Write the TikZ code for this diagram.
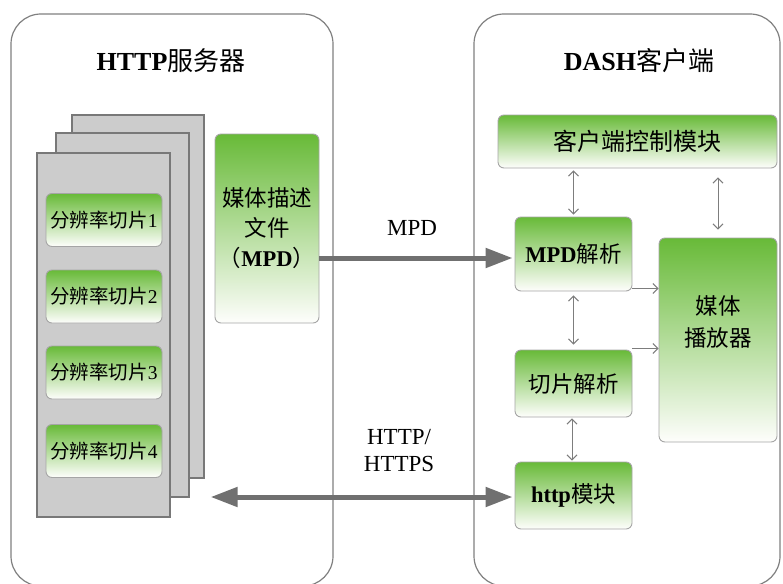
\documentclass[tikz,border=0pt]{standalone}
\usepackage{fontspec}
\setmainfont{Liberation Serif}
\newfontfamily\cjk{Noto Sans CJK SC}
\usetikzlibrary{arrows.meta}

\definecolor{boxgreen}{RGB}{104,186,56}
\definecolor{boxwhite}{RGB}{254,254,252}
\definecolor{edgegray}{RGB}{165,165,165}
\definecolor{framegray}{RGB}{128,128,128}
\definecolor{pagefill}{RGB}{204,204,204}
\definecolor{pageedge}{RGB}{120,120,120}
\definecolor{arrowgray}{RGB}{112,112,112}
\definecolor{linkgray}{RGB}{125,125,125}

\newcommand{\zh}[1]{{\cjk #1}}

\begin{document}
\begin{tikzpicture}[x=1pt,y=-1pt,
  frame/.style={draw=framegray, line width=1.2pt, rounded corners=30pt, inner sep=0pt},
  page/.style={draw=pageedge, fill=pagefill, line width=1.3pt, inner sep=0pt},
  gbox/.style={draw=edgegray, line width=0.9pt, rounded corners=6pt,
    top color=boxgreen, bottom color=boxwhite, inner sep=0pt,
    align=center, text=black},
  titletext/.style={font=\fontsize{26}{30}\selectfont, text=black},
  slicetext/.style={font=\fontsize{19.5}{23}\selectfont},
  boxtext/.style={font=\fontsize{22.5}{30}\selectfont},
  bigarrow/.style={draw=arrowgray, line width=5pt},
  bighead/.style={-{Triangle[length=27pt,width=19pt]}},
  bigboth/.style={{Triangle[length=27pt,width=19pt]}-{Triangle[length=27pt,width=19pt]}},
  link/.style={draw=linkgray, line width=1pt, -{Straight Barb[length=5pt,width=10pt]}},
  linkboth/.style={draw=linkgray, line width=1pt,
    {Straight Barb[length=5pt,width=10pt]}-{Straight Barb[length=5pt,width=10pt]}},
  lbl/.style={font=\fontsize{23}{27}\selectfont, align=center, text=black}
]
\useasboundingbox (0,0) rectangle (783,583);

% the two sides (their lower edges run just past the page)
\node[frame, minimum width=322pt, minimum height=572pt] (server) at (172,300) {};
\node[frame, minimum width=306pt, minimum height=572pt] (client) at (627,300) {};
\node[titletext] (servertitle) at (171,61) {\textbf{HTTP}\zh{服务器}};
\node[titletext] (clienttitle) at (639,61) {\textbf{DASH}\zh{客户端}};

% stack of representation pages
\node[page, minimum width=132pt, minimum height=363pt] (pg1) at (138,296.5) {};
\node[page, minimum width=133pt, minimum height=364pt] (pg2) at (122.5,315) {};
\node[page, minimum width=133pt, minimum height=364pt] (pg3) at (103.5,335) {};

% segments
\foreach \i/\y in {1/220,2/296.5,3/372.5,4/451}
  \node[gbox, slicetext, minimum width=116pt, minimum height=53pt] (seg\i) at (104,\y) {\zh{分辨率切片}\i};

% media description
\node[gbox, boxtext, minimum width=104pt, minimum height=189pt] (mpd) at (267,228.5)
  {\zh{媒体描述}\\\zh{文件}\\\zh{（}\textbf{MPD}\zh{）}};

% client modules
\node[gbox, font=\fontsize{24}{28}\selectfont, minimum width=279pt, minimum height=53pt] (ctrl) at (637.5,141.5) {\zh{客户端控制模块}};
\node[gbox, boxtext, minimum width=117pt, minimum height=74pt] (mpdp) at (573.5,254) {\textbf{MPD}\zh{解析}};
\node[gbox, font=\fontsize{22.5}{32}\selectfont, minimum width=118pt, minimum height=204pt] (player) at (718,340) {\zh{媒体}\\\zh{播放器}\\[6pt]};
\node[gbox, boxtext, minimum width=117pt, minimum height=67pt] (segp) at (573.5,383.5) {\zh{切片解析}};
\node[gbox, boxtext, minimum width=117pt, minimum height=67pt] (http) at (573.5,495.5) {\textbf{http}\zh{模块}};

% transfers between server and client
\coordinate (mpdin) at ([yshift=-4pt]mpdp.west);
\draw[bigarrow, bighead, shorten >=2pt] (mpd.east |- mpdin) -- (mpdin)
  node[lbl, midway, xshift=-5pt, yshift=30pt] (mpdlabel) {MPD};
\coordinate (httpin) at ([yshift=-1.5pt]http.west);
\draw[bigarrow, bigboth, shorten >=2pt] ([xshift=6pt]pg1.east |- httpin) -- (httpin)
  node[lbl, pos=0.62, yshift=46pt] (httplabel) {HTTP/\\HTTPS};

% links inside the client
\draw[linkboth, shorten <=2pt, shorten >=2pt] (ctrl.south -| mpdp.north) -- (mpdp.north);
\draw[linkboth, shorten <=9pt, shorten >=8pt] (ctrl.south -| player.north) -- (player.north);
\draw[linkboth, shorten <=4pt, shorten >=5pt] (mpdp.south) -- (segp.north);
\draw[linkboth, shorten <=1pt, shorten >=1pt] ([xshift=-1.5pt]segp.south) -- ([xshift=-1.5pt]http.north);
\coordinate (mpdout) at ([yshift=3pt]mpdp.south east);
\draw[link] (mpdout) -- (mpdout -| player.west);
\coordinate (segout) at ([yshift=1pt]segp.north east);
\draw[link] (segout) -- (segout -| player.west);
\end{tikzpicture}
\end{document}
